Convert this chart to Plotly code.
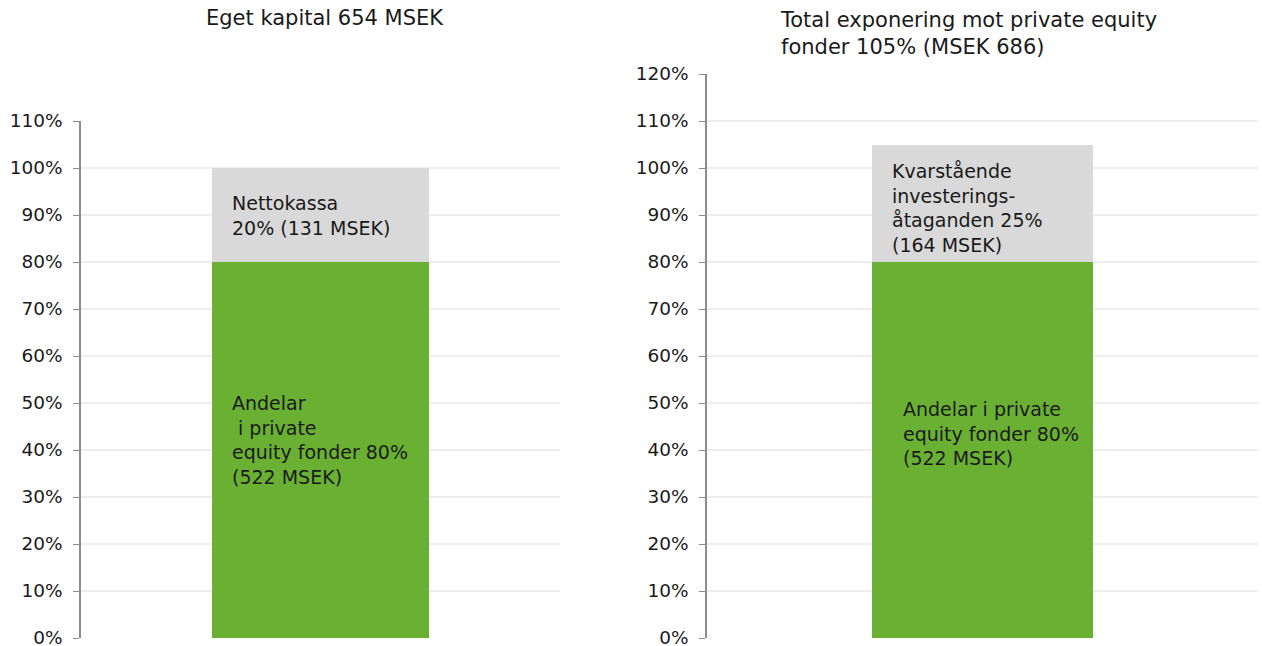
import plotly.graph_objs as go
from plotly.subplots import make_subplots

# data
left_title = "Eget kapital 654 MSEK"
right_title = "Total exponering mot private equity<br>fonder 105% (MSEK 686)"

left_segments = ["Andelar i private equity fonder", "Nettokassa"]
left_values = [80, 20]
left_labels = ["Andelar<br> i private<br>equity fonder 80%<br>(522 MSEK)",
               "Nettokassa<br>20% (131 MSEK)"]

right_segments = ["Andelar i private equity fonder", "Kvarstående investeringsåtaganden"]
right_values = [80, 25]
right_labels = ["Andelar i private<br>equity fonder 80%<br>(522 MSEK)",
                "Kvarstående<br>investerings-<br>åtaganden 25%<br>(164 MSEK)"]

left_ticks = list(range(0, 111, 10))
right_ticks = list(range(0, 121, 10))

colors = ["#6AB133", "#D9D9D9"]
font = "DejaVu Sans, Verdana, sans-serif"

W, H = 1262, 646

fig = make_subplots(rows=1, cols=2)

for i, (vals, names) in enumerate([(left_values, left_segments), (right_values, right_segments)]):
    width = 0.453 if i == 0 else 0.40
    for v, n, c in zip(vals, names, colors):
        fig.add_trace(go.Bar(x=[0], y=[v], name=n, marker_color=c, width=width,
                             marker_line_width=0, showlegend=False, hoverinfo="skip"),
                      row=1, col=i + 1)

fig.update_layout(
    barmode="stack",
    width=W, height=H,
    margin=dict(l=0, r=0, t=0, b=0),
    paper_bgcolor="white",
    plot_bgcolor="white",
    font=dict(family=font, size=18, color="#1a1a1a"),
)

fig.update_xaxes(range=[-0.5, 0.5], showticklabels=False, showgrid=False, zeroline=False,
                 showline=False, ticks="")
fig.update_xaxes(domain=[81 / W, 560 / W], row=1, col=1)
fig.update_xaxes(domain=[707 / W, 1258 / W], row=1, col=2)

common_y = dict(showline=True, linecolor="#8c8c8c", linewidth=1.5, ticks="outside",
                ticklen=6, tickcolor="#8c8c8c", showgrid=True, gridcolor="#eeeeee",
                gridwidth=1.5, zeroline=False, automargin=False,
                ticklabelstandoff=7, ticklabeloverflow="allow",
                tickfont=dict(size=18.5, color="#1a1a1a"))
fig.update_yaxes(range=[0, 110], tickvals=left_ticks,
                 ticktext=[f"{t}%" for t in left_ticks],
                 domain=[8 / H, (646 - 121) / H], row=1, col=1, **common_y)
fig.update_yaxes(range=[0, 120], tickvals=right_ticks,
                 ticktext=[f"{t}%" for t in right_ticks],
                 domain=[8 / H, (646 - 74) / H], row=1, col=2, **common_y)

# titles
fig.add_annotation(text=left_title, xref="paper", yref="paper", x=325 / W, y=1 - 18 / H,
                   xanchor="center", yanchor="middle", showarrow=False, font=dict(size=21))
fig.add_annotation(text=right_title, xref="paper", yref="paper", x=778 / W, y=1 - 34 / H,
                   xanchor="left", yanchor="middle", align="left", showarrow=False,
                   font=dict(size=21))

# labels inside bars
left_pos = [(-0.189, 90.0), (-0.189, 42.1)]
right_pos = [(-0.147, 43.5), (-0.168, 91.4)]
left_pos = left_pos[::-1]
for (lx, ly), t in zip(left_pos, left_labels):
    fig.add_annotation(text=t, x=lx, y=ly, xref="x", yref="y", xanchor="left",
                       yanchor="middle", align="left", showarrow=False, font=dict(size=19))
for (lx, ly), t in zip(right_pos, right_labels):
    fig.add_annotation(text=t, x=lx, y=ly, xref="x2", yref="y2", xanchor="left",
                       yanchor="middle", align="left", showarrow=False, font=dict(size=19))

fig.write_html("out.html", config={"displayModeBar": False},
               post_script="document.body.style.margin='0';")
